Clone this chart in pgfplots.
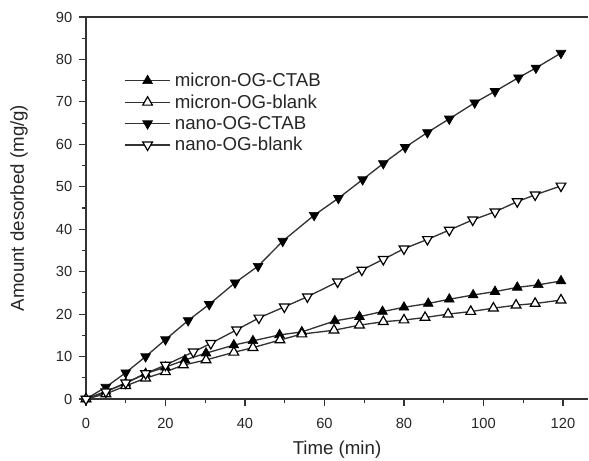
\documentclass[border=0pt]{standalone}
\usepackage{pgfplots}
\pgfplotsset{compat=1.18}
\usepackage{fontspec}
\setmainfont{Liberation Sans}

\begin{document}
\begin{tikzpicture}
\begin{axis}[
    scale only axis,
    width=376.5pt, height=286.5pt,
    xmin=0, xmax=126.3,
    ymin=0, ymax=90,
    xtick={0,20,...,120},
    ytick={0,10,...,90},
    minor x tick num=1,
    minor y tick num=1,
    axis x line*=box,
    axis y line*=left,
    xtick pos=left, ytick pos=left,
    tick align=outside,
    major tick length=5.25pt,
    minor tick length=3pt,
    axis line style={line width=1.1pt, black!80},
    tick style={line width=0.9pt, black!80},
    tick label style={font=\fontsize{11}{13}\selectfont, text=black!85},
    xticklabel style={yshift=-5.5pt},
    yticklabel style={xshift=-1.5pt},
    /pgf/number format/assume math mode=true,
    xlabel={Time (min)},
    ylabel={Amount desorbed (mg/g)},
    every axis x label/.style={at={(axis description cs:0.5,-0.1335)}, anchor=center},
    every axis y label/.style={at={(axis description cs:-0.1335,0.5)}, rotate=90, anchor=center},
    label style={font=\fontsize{14}{16}\selectfont, text=black!85},
    legend style={
        draw=none, fill=none, inner sep=0pt,
        at={(0.0757,0.861)}, anchor=north west,
        font=\fontsize{14}{17}\selectfont, text=black!85,
        row sep=0.5pt,
        nodes={inner xsep=3pt},
    },
    legend cell align=left,
    legend image code/.code={%
        \draw[mark repeat=2, mark phase=2] plot coordinates {(0pt,0pt) (17pt,0pt) (34pt,0pt)};
    },
    every axis plot/.append style={line width=1pt, black!80, mark size=4.2pt},
]
% micron-OG-CTAB
\addplot[mark=triangle*, mark options={fill=black, draw=black, line width=0.5pt}] coordinates {
    (0,0) (5,1.8) (10,3.7) (15,6.0) (20,7.5) (24.9,9.2) (30.2,10.8) (37.2,12.7)
    (42,13.7) (48.7,15.1) (54.3,15.8) (62.6,18.4) (68.8,19.4) (74.6,20.6)
    (80,21.6) (86.1,22.5) (91.4,23.5) (97.4,24.5) (102.9,25.3) (108.5,26.3)
    (113.8,26.9) (119.5,27.8)
};
% micron-OG-blank
\addplot[mark=triangle*, mark options={fill=white, draw=black, line width=0.9pt}] coordinates {
    (0,0) (5,1.2) (10,3.1) (15,4.9) (20,6.4) (24.5,8.0) (30.2,9.2) (37.2,11.0)
    (42,12.1) (48.8,13.9) (54.3,15.3) (62.4,16.2) (68.8,17.4) (74.8,18.2)
    (80,18.6) (85.3,19.2) (91.1,20.0) (96.8,20.6) (102.5,21.4) (108.2,22.1)
    (113,22.5) (119.5,23.3)
};
% nano-OG-CTAB
\addplot[mark=triangle*, mark options={fill=black, draw=black, line width=0.5pt, rotate=180}] coordinates {
    (0,0) (5,2.8) (10,6.2) (15,10.0) (20,14.0) (25.7,18.5) (31,22.3) (37.5,27.4)
    (43.3,31.3) (49.5,37.2) (57.4,43.3) (63.5,47.3) (69.6,51.7) (74.8,55.5)
    (80.3,59.3) (85.9,62.8) (91.4,66.0) (97.8,69.8) (102.9,72.5) (108.8,75.7)
    (113.2,78.0) (119.5,81.5)
};
% nano-OG-blank
\addplot[mark=triangle*, mark options={fill=white, draw=black, line width=0.9pt, rotate=180}] coordinates {
    (0,0) (5,1.7) (10,3.8) (15,6.0) (20,8.0) (27,11.1) (31.4,13.1) (37.9,16.3)
    (43.5,19.1) (49.9,21.7) (55.7,24.1) (63.3,27.6) (69.4,30.4) (74.8,32.9)
    (80,35.4) (85.9,37.6) (91.4,39.8) (97.3,42.2) (102.9,44.1) (108.5,46.5)
    (113,48.1) (119.5,50.2)
};
\legend{micron-OG-CTAB, micron-OG-blank, nano-OG-CTAB, nano-OG-blank}
\coordinate (bl) at (rel axis cs:-0.1713,-0.1623);
\coordinate (tr) at (rel axis cs:1.002,1.0445);
\end{axis}
\pgfresetboundingbox
\path[use as bounding box] (bl) rectangle (tr);
\end{tikzpicture}
\end{document}
